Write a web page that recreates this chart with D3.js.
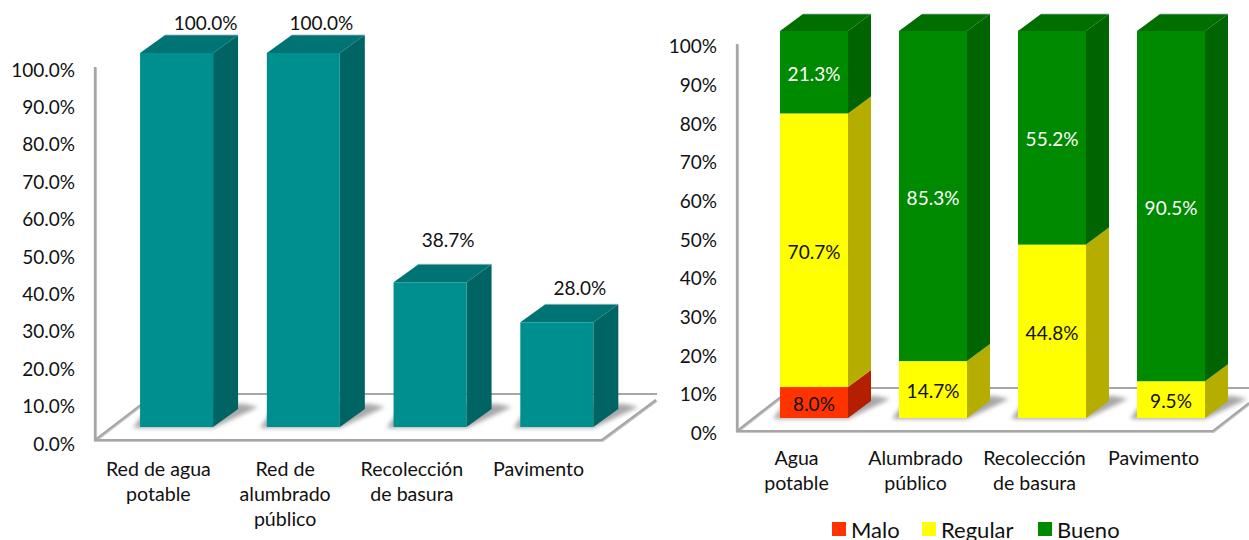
<!DOCTYPE html>
<html><head><meta charset="utf-8">
<script src="https://cdn.jsdelivr.net/npm/d3@7"></script>
<style>
html,body{margin:0;padding:0;background:#fff;overflow:hidden}
svg{display:block}
text{font-family:Lato,"Open Sans",sans-serif;fill:#111}
</style></head><body>
<svg id="c" width="1249" height="540"></svg>
<script>
// DATA
const coverageCategories = [["Red de agua","potable"],["Red de","alumbrado","público"],["Recolección","de basura"],["Pavimento"]];
const coverageValues = [100.0,100.0,38.7,28.0];
const coverageTicks = [0,10,20,30,40,50,60,70,80,90,100];
const stateCategories = [["Agua","potable"],["Alumbrado","público"],["Recolección","de basura"],["Pavimento"]];
const stateSeries = ["Malo","Regular","Bueno"];
const maloValues = [8.0,0,0,0];
const regularValues = [70.7,14.7,44.8,9.5];
const buenoValues = [21.3,85.3,55.2,90.5];
const stateTicks = [0,10,20,30,40,50,60,70,80,90,100];

// STYLE
const FS = 19, CAT_FS = 19.6, LINE = 25, GRID = "#a6a6a6";
const teal = {front:"#008f8f",side:"#006464",top:"#007474"};
const stateColors = {
  Malo:{front:"#ff3300",side:"#b31f00",text:"#111"},
  Regular:{front:"#ffff00",side:"#b5ad00",text:"#111"},
  Bueno:{front:"#008a00",side:"#006400",top:"#006f00",text:"#fff"}
};

const svg = d3.select("#c");
const defs = svg.append("defs");
defs.append("filter").attr("id","blur").attr("x","-30%").attr("y","-60%").attr("width","160%").attr("height","220%")
  .append("feGaussianBlur").attr("stdDeviation",2.2);
defs.append("filter").attr("id","lineblur").attr("x","-5%").attr("y","-5%").attr("width","110%").attr("height","110%")
  .append("feGaussianBlur").attr("stdDeviation",0.7);
const poly = pts => pts.map(p=>p.join(",")).join(" ");

function frame(cfg){
  const g = svg.append("g");
  const {x0,x1,yTop,yBase,backY,backStart,backEnd,diagEnd,diagStart} = cfg;
  const segs = [
    [[x0,yTop],[x0,yBase],[x1,yBase],diagEnd],
    [[backStart,backY],[backEnd,backY]],
    [[x0,yBase],diagStart]
  ];
  [["#c8c8c8",3.2,"url(#lineblur)",1],[GRID,2.2,null,0]].forEach(([col,w,f,d])=>{
    segs.forEach(s=>{
      g.append("polyline").attr("points",poly(s.map(p=>[p[0]+d*0.5,p[1]+d*0.5])))
        .attr("fill","none").attr("stroke",col).attr("stroke-width",w)
        .attr("filter",f);
    });
  });
}
function yAxis(scale,ticks,fmt,axisX,textRight,dy){
  const ax = d3.axisLeft(scale).tickValues(ticks).tickFormat(fmt).tickSize(0).tickPadding(axisX-textRight);
  const g = svg.append("g").attr("transform",`translate(${axisX},${dy})`).call(ax);
  g.select(".domain").remove();
  g.selectAll("text").attr("font-size",FS).attr("dy","0.35em");
}
function xLabels(band,cats,y){
  const ax = d3.axisBottom(band).tickSize(0).tickFormat("");
  const g = svg.append("g").attr("transform",`translate(0,${y})`).call(ax);
  g.select(".domain").remove();
  g.selectAll(".tick").each(function(d){
    const t = d3.select(this).select("text").attr("y",0).attr("dy",null).attr("font-size",CAT_FS);
    cats[d].forEach((line,i)=>t.append("tspan").attr("x",0).attr("y",i*LINE).attr("dy","0.35em").text(line));
  });
}
function shadow(x,w,yb,dx,dy){
  svg.append("polygon")
    .attr("points",poly([[x-7,yb+1],[x+w,yb+1],[x+w+dx+8,yb-dy+2],[x+w+dx-6,yb-dy-1],[x+10,yb-dy-1]]))
    .attr("fill","#a8a8a8").attr("filter","url(#blur)");
}
function box(x,w,y0,y1,dx,dy,col,withTop){
  const g = svg.append("g");
  g.append("polygon").attr("points",poly([[x+w,y0],[x+w+dx,y0-dy],[x+w+dx,y1-dy],[x+w,y1]])).attr("fill",col.side);
  if(withTop){
    g.append("polygon").attr("points",poly([[x,y1],[x+dx,y1-dy],[x+w+dx,y1-dy],[x+w,y1]])).attr("fill",col.top||col.side);
    g.append("polyline").attr("points",poly([[x+dx,y1-dy],[x+w+dx,y1-dy]]))
      .attr("fill","none").attr("stroke","#9db5b5").attr("stroke-width",0.8);
  }
  g.append("rect").attr("x",x).attr("y",y1).attr("width",w).attr("height",y0-y1).attr("fill",col.front);
}

// LEFT CHART
(function(){
  const x0=95,x1=602,yBase=440,yTop=66,lift=13,dx=25,dy=18;
  const y = d3.scaleLinear().domain([0,100]).range([yBase,yTop]);
  const band = d3.scaleBand().domain(d3.range(4)).range([x0,x1]);
  const bar = d3.scaleBand().domain(d3.range(4)).range([x0,x1]).paddingInner(0.424).paddingOuter(0.212);
  frame({x0,x1,yTop:yTop+1,yBase,backY:394,backStart:152,backEnd:657,diagEnd:[656,400],diagStart:[142,404]});
  yAxis(y,coverageTicks,d=>d.toFixed(1)+"%",x0,75,3.5);
  xLabels(band,coverageCategories,469);
  const labelDx=[29,18,18,23], labelDy=[-30,-30,-42,-34], sx=18.2;
  coverageValues.forEach((v,i)=>shadow(bar(i)+sx,bar.bandwidth(),y(0)-lift,dx+12,dy+4));
  coverageValues.forEach((v,i)=>{
    const x=bar(i)+sx,w=bar.bandwidth(),y0=y(0)-lift,y1=y(v)-lift;
    box(x,w,y0,y1,dx,dy,teal,true);
    svg.append("text").attr("x",x+w/2+labelDx[i]).attr("y",y1+labelDy[i]).attr("dy","0.35em")
      .attr("text-anchor","middle").attr("font-size",FS).text(v.toFixed(1)+"%");
  });
})();

// RIGHT CHART
(function(){
  const x0=737,x1=1213,yBase=431,yTop=44,lift=13,dx=23,dy=17;
  const y = d3.scaleLinear().domain([0,100]).range([yBase,yTop]);
  const band = d3.scaleBand().domain(d3.range(4)).range([x0,x1]);
  const bar = d3.scaleBand().domain(d3.range(4)).range([x0,x1]).paddingInner(0.4286).paddingOuter(0.2143);
  frame({x0,x1,yTop,yBase,backY:388,backStart:790,backEnd:1249,diagEnd:[1249,403],diagStart:[782,396]});
  yAxis(y,stateTicks,d=>d+"%",x0,717,2);
  xLabels(band,stateCategories,458);
  const rows = stateCategories.map((c,i)=>({i,Malo:maloValues[i],Regular:regularValues[i],Bueno:buenoValues[i]}));
  const stack = d3.stack().keys(stateSeries)(rows);
  const sx=17.5;
  d3.range(4).forEach(i=>shadow(bar(i)+sx,bar.bandwidth(),y(0)-lift,dx+11,dy+4));
  const labels=[];
  d3.range(4).forEach(i=>{
    stack.forEach(s=>{
      const d=s[i]; const v=d[1]-d[0]; if(v<=0) return;
      const x=bar(i)+sx,w=bar.bandwidth(),y0=y(d[0])-lift,y1=y(d[1])-lift;
      box(x,w,y0,y1,dx,dy,stateColors[s.key],s.key==="Bueno");
      labels.push({x:x+w/2,y:(y0+y1)/2+2,v,c:stateColors[s.key].text});
    });
  });
  labels.forEach(l=>svg.append("text").attr("x",l.x).attr("y",l.y).attr("dy","0.35em")
    .attr("text-anchor","middle").attr("font-size",FS).style("fill",l.c).text(l.v.toFixed(1)+"%"));
  // legend
  const legendX=[832,922,1038];
  stateSeries.forEach((s,i)=>{
    svg.append("rect").attr("x",legendX[i]).attr("y",522).attr("width",14).attr("height",14).attr("fill",stateColors[s].front);
    svg.append("text").attr("x",legendX[i]+19).attr("y",530).attr("dy","0.35em").attr("font-size",22).text(s);
  });
})();
</script>
</body></html>
